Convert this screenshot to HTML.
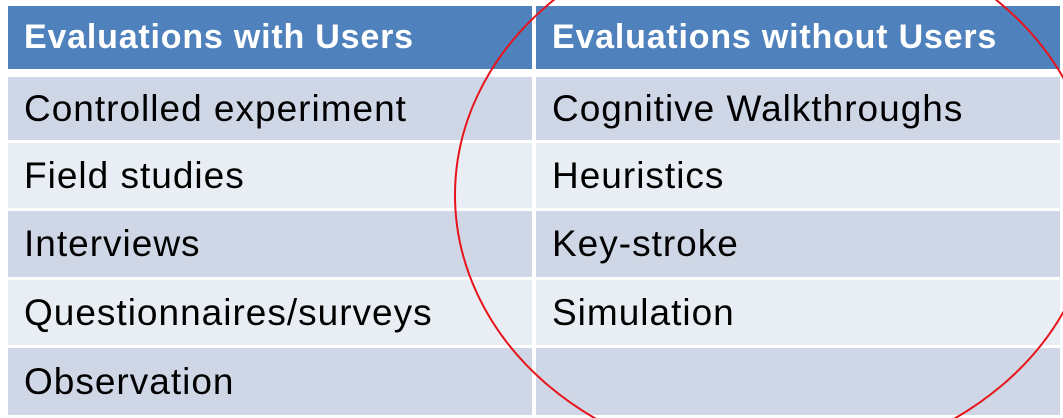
<!DOCTYPE html>
<html><head><style>
html,body{margin:0;width:1063px;height:418px;overflow:hidden;}
body{background:#fff;position:relative;font-family:"Liberation Sans",sans-serif;}
.c{position:absolute;box-sizing:border-box;padding-left:16px;display:flex;align-items:center;font-size:37px;letter-spacing:1px;color:#000;white-space:nowrap;overflow:hidden;}
.h{background:#4f81bd;color:#fff;font-weight:bold;font-size:34px;letter-spacing:0.8px;}
.d{background:#cfd7e6;}
.l{background:#e9edf4;}
</style></head><body>
<div class="c h" style="left:8px;top:6px;width:524px;height:63px;">Evaluations with Users</div>
<div class="c h" style="left:536px;top:6px;width:524px;height:63px;">Evaluations without Users</div>

<div class="c d" style="left:8px;top:77px;width:524px;height:63px;">Controlled experiment</div>
<div class="c d" style="left:536px;top:77px;width:524px;height:63px;">Cognitive Walkthroughs</div>
<div class="c l" style="left:8px;top:143px;width:524px;height:65px;">Field studies</div>
<div class="c l" style="left:536px;top:143px;width:524px;height:65px;">Heuristics</div>
<div class="c d" style="left:8px;top:211px;width:524px;height:66px;">Interviews</div>
<div class="c d" style="left:536px;top:211px;width:524px;height:66px;">Key-stroke</div>
<div class="c l" style="left:8px;top:280px;width:524px;height:65px;">Questionnaires/surveys</div>
<div class="c l" style="left:536px;top:280px;width:524px;height:65px;">Simulation</div>
<div class="c d" style="left:8px;top:348px;width:524px;height:67px;">Observation</div>
<div class="c d" style="left:536px;top:348px;width:524px;height:67px;"></div>

<svg style="position:absolute;left:0;top:0;display:block" width="1063" height="418">
<ellipse cx="775" cy="195" rx="320" ry="270" fill="none" stroke="#e8141b" stroke-width="2"/>
</svg>
</body></html>
